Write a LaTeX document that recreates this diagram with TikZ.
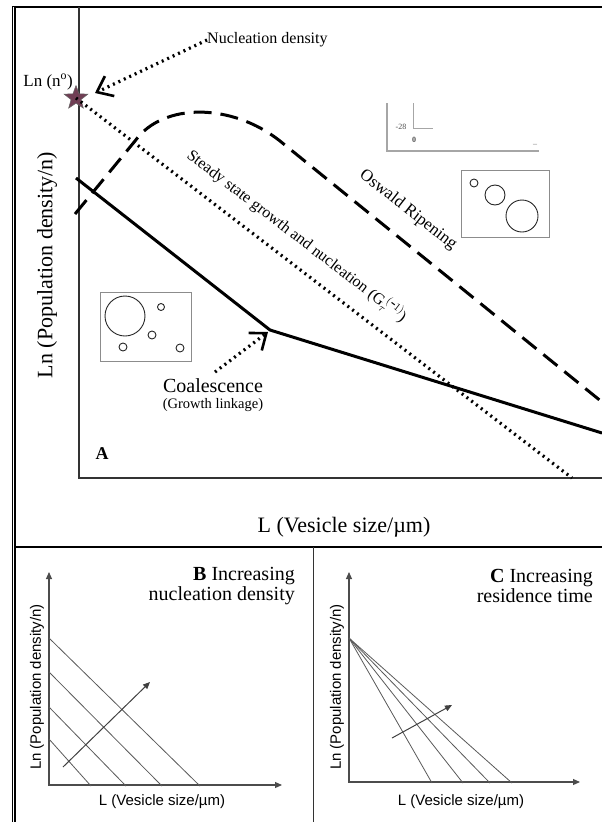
\documentclass[tikz,border=0pt]{standalone}
\usepackage{fontspec}
\setmainfont{Liberation Serif}
\setsansfont{Liberation Sans}
\usetikzlibrary{shapes.geometric,arrows.meta,positioning,calc}
\definecolor{starmauve}{RGB}{112,62,84}
\newcommand{\fsz}[1]{\fontsize{#1}{#1}\selectfont}
\tikzset{
  frameline/.style={draw=black, line width=2.4pt},
  axisline/.style={draw=black!80, line width=1.3pt},
  solidcurve/.style={draw=black, line width=3pt},
  dashcurve/.style={draw=black, line width=3pt, dash pattern=on 18pt off 9pt},
  dotcurve/.style={draw=black, line width=3.2pt, dash pattern=on 2pt off 4pt},
  pointer/.style={dotcurve, -{Straight Barb[length=14pt,width=22pt,line width=2.6pt]}},
  insetbox/.style={draw=black!45, line width=0.9pt},
  bubble/.style={draw=black!85, line width=0.9pt},
  ghostline/.style={draw=black!35, line width=1.4pt},
  smallaxis/.style={draw=black!70, line width=1.1pt,
    {Triangle[length=7pt,width=6pt]}-{Triangle[length=7pt,width=6pt]}},
  fanline/.style={draw=black!65, line width=0.8pt},
  trendarrow/.style={draw=black!75, line width=1pt, -{Triangle[length=7pt,width=6pt]}},
  paneltitle/.style={anchor=east, align=right, font=\fsz{20}, inner sep=0pt},
  sanslabel/.style={font=\sffamily\fsz{15}, inner sep=0pt}
}

\begin{document}
\begin{tikzpicture}[x=1pt, y=-1pt]
  \useasboundingbox (0,0) rectangle (602,822);

  % ============ Frame and panel separators ============
  \draw[frameline] (12,7) -- (602,7);
  \draw[draw=black, line width=1.2pt, double, double distance=1.6pt] (13.5,7) -- (13.5,822);
  \draw[frameline, line width=2.2pt] (15,547) -- (602,547);
  \draw[draw=black!80, line width=1pt] (313,547) -- (313,822);

  % ============ Panel A: axes ============
  \coordinate (aorig) at (79,478);
  \draw[axisline] (79,7) -- (aorig) -- (602,478);
  \node[font=\fsz{22}, rotate=90, inner sep=0pt] (aylab) at (47,265) {Ln (Population density/n)};
  \node[font=\fsz{22}, inner sep=0pt] (axlab) at (344,527) {L (Vesicle size/µm)};
  \node[font=\bfseries\fsz{18}, inner sep=0pt] (alab) at (102,454) {A};

  % ============ Panel A: faint left-over axis fragment ============
  \draw[ghostline] (387,103) -- (387,151) -- (539,151);
  \draw[ghostline, line width=1pt] (413,103) -- (413,128) -- (433,128);
  \node[font=\fsz{8}, text=black!70, inner sep=0pt] (gh28) at (401,127) {-28};
  \node[font=\bfseries\fsz{8}, text=black!70, inner sep=0pt] (gh0) at (414,140) {0};
  \node[font=\fsz{8}, text=black!60, inner sep=0pt] (ghdash) at (535,145) {--};

  % ============ Panel A: curves ============
  \node[star, star points=5, star point ratio=2.4, minimum size=25pt, inner sep=0pt,
    fill=starmauve, draw=black!60, line width=0.5pt] (nstar) at (76,98) {};
  \node[font=\fsz{17}, anchor=east, inner sep=0pt] (nolab) at (73,82) {Ln (n\textsuperscript{o})};

  % steady state growth (dotted)
  \coordinate (ssend) at (572,478);
  \draw[dotcurve] (nstar.center) -- (ssend);
  \node[font=\fsz{16}, rotate=-37.5, inner sep=0pt] (sslab) at (297,236)
    {Steady state growth and nucleation (G$_{\tau}^{\,(\mbox{-}1)}$)};

  % Oswald ripening (dashed)
  \draw[dashcurve] (75,214) -- (135,141)
    .. controls (163,102) and (232,103) .. (280,141) -- (602,402);
  \node[font=\fsz{17}, rotate=-38, inner sep=0pt] (oslab) at (408,210) {Oswald Ripening};

  % coalescence (solid, kinked)
  \coordinate (kink) at (270,330);
  \draw[solidcurve] (76,178) -- (kink) -- (602,433);

  % ============ Panel A: labels with pointers ============
  \node[font=\fsz{16}, anchor=west, inner sep=0pt] (nuclab) at (207,40) {Nucleation density};
  \coordinate (nucltip) at (95,93);
  \draw[pointer] (nuclab.west) -- (nucltip);

  \node[font=\fsz{20}, inner sep=0pt] (coallab) at (213,386) {Coalescence};
  \node[font=\fsz{14.5}, inner sep=0pt, below=5pt of coallab] (linklab) {(Growth linkage)};
  \coordinate (coaltail) at (215,372);
  \coordinate (coaltip) at (268,332);
  \draw[pointer] (coaltail) -- (coaltip);

  % ============ Panel A: vesicle insets ============
  \draw[insetbox] (100,292) rectangle (191,361);
  \draw[bubble] (125,316) circle (20);
  \draw[bubble] (161,307) circle (3.5);
  \draw[bubble] (152,335) circle (4);
  \draw[bubble] (123,347) circle (4);
  \draw[bubble] (180,348) circle (4);

  \draw[insetbox] (461,170) rectangle (549,237);
  \draw[bubble] (474,183) circle (4);
  \draw[bubble] (495,195) circle (10);
  \draw[bubble] (522,216) circle (16);

  % ============ Panel B: increasing nucleation density ============
  \coordinate (borig) at (49,785);
  \draw[smallaxis] (49,572) -- (borig) -- (282,785);
  \foreach \ya/\xb in {638/200, 672/162, 707/126, 739/91}
    \draw[fanline] (49,\ya) -- (\xb,786);
  \draw[trendarrow] (63,767) -- (150,682);
  \node[paneltitle] (btitle) at (295,586) {\textbf{B} Increasing\\nucleation density};
  \node[sanslabel, rotate=90] (bylab) at (37,687) {Ln (Population density/n)};
  \node[sanslabel] (bxlab) at (162,802) {L (Vesicle size/µm)};

  % ============ Panel C: increasing residence time ============
  \coordinate (corig) at (349,782);
  \coordinate (cpivot) at (349,638);
  \draw[smallaxis] (349,572) -- (corig) -- (580,782);
  \foreach \xc in {432, 463, 490, 512}
    \draw[fanline] (cpivot) -- (\xc,783);
  \draw[trendarrow] (392,738) -- (452,705);
  \node[paneltitle] (ctitle) at (593,586) {\textbf{C} Increasing\\residence time};
  \node[sanslabel, rotate=90] (cylab) at (337,687) {Ln (Population density/n)};
  \node[sanslabel] (cxlab) at (461,802) {L (Vesicle size/µm)};

\end{tikzpicture}
\end{document}
